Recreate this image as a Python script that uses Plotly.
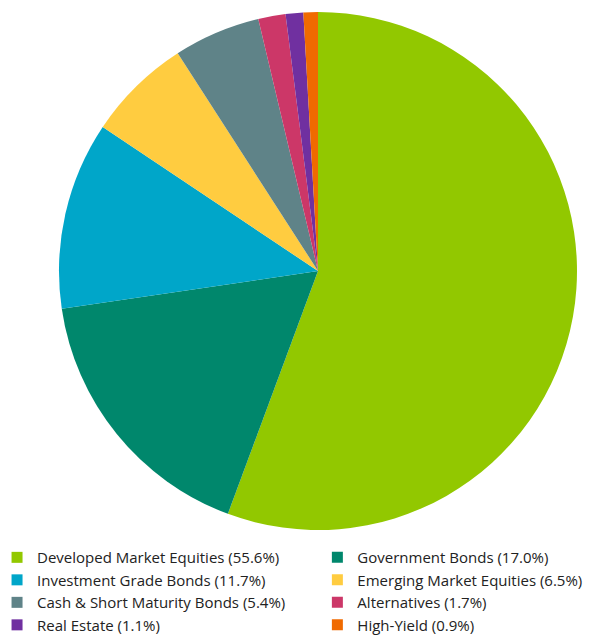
import plotly.graph_objects as go

labels = ["Developed Market Equities", "Government Bonds", "Investment Grade Bonds",
          "Emerging Market Equities", "Cash & Short Maturity Bonds", "Alternatives",
          "Real Estate", "High-Yield"]
values = [55.6, 17.0, 11.7, 6.5, 5.4, 1.7, 1.1, 0.9]
colors = ["#92C800", "#00876C", "#00A6C9", "#FFCC40", "#5F8388", "#CC3768", "#7030A0", "#F06A00"]

legend_names = [f"{l} ({v:.1f}%)" for l, v in zip(labels, values)]

fig = go.Figure()
fig.add_trace(go.Pie(
    labels=legend_names,
    values=values,
    marker=dict(colors=colors, line=dict(width=0)),
    sort=False,
    direction="clockwise",
    rotation=0,
    textinfo="none",
    hoverinfo="label",
    showlegend=False,
    domain=dict(x=[51/609, 569/609], y=[1-522/635, 1-4/635]),
))

# legend entries: two columns (even index left, odd index right)
for i, (name, c) in enumerate(zip(legend_names, colors)):
    fig.add_trace(go.Scatter(
        x=[None], y=[None], mode="markers", name=name,
        marker=dict(symbol="square", size=11, color=c),
        legend="legend" if i % 2 == 0 else "legend2",
        hoverinfo="skip",
    ))

leg_common = dict(
    orientation="v", xref="paper", yref="paper",
    yanchor="bottom", y=0.003,
    font=dict(family="Open Sans", size=15, color="#222222"),
    itemclick=False, itemdoubleclick=False, tracegroupgap=0,
    bgcolor="rgba(0,0,0,0)",
)

fig.update_layout(
    width=609, height=635,
    margin=dict(l=0, r=0, t=0, b=0, autoexpand=False),
    paper_bgcolor="white",
    plot_bgcolor="white",
    font=dict(family="Open Sans", size=15, color="#222222"),
    xaxis=dict(visible=False),
    yaxis=dict(visible=False),
    legend=dict(x=-0.018, xanchor="left", **leg_common),
    legend2=dict(x=0.508, xanchor="left", **leg_common),
)

fig.write_html("out.html")
